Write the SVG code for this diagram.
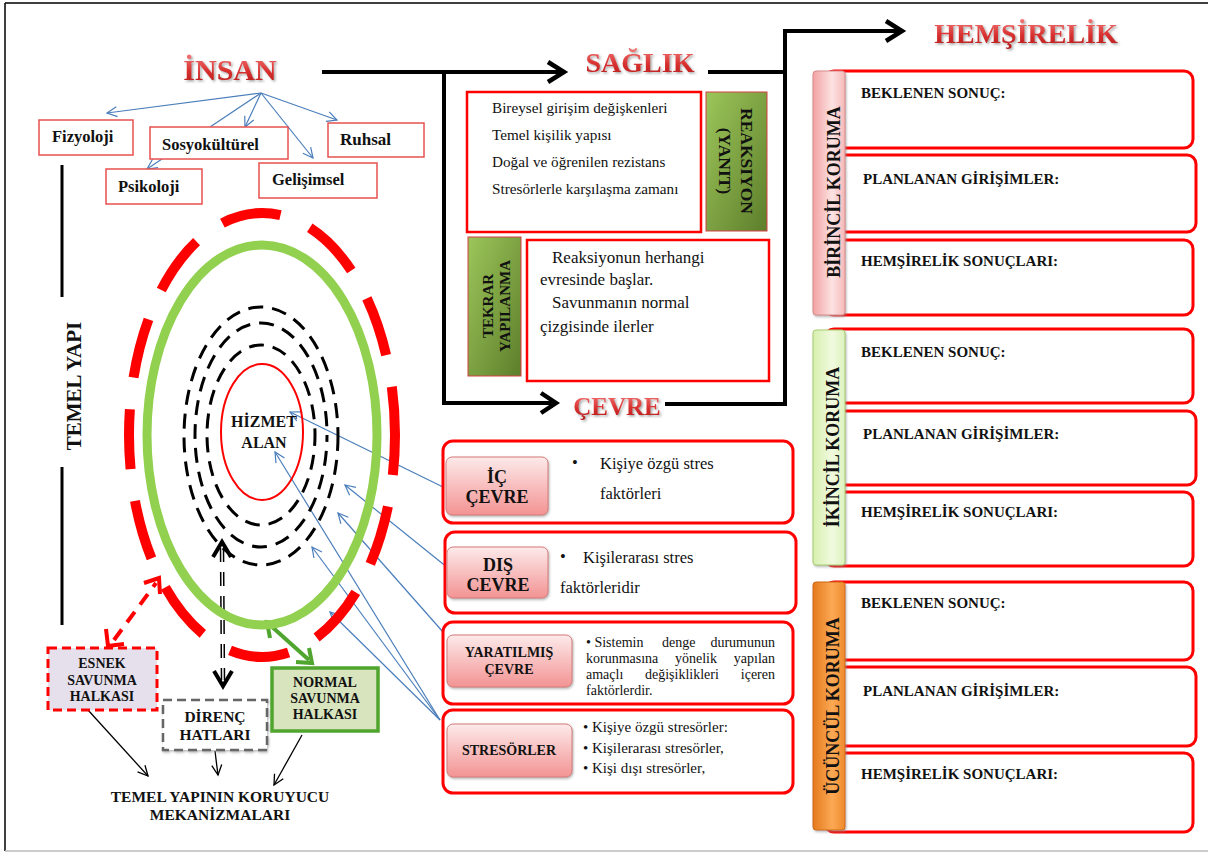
<svg xmlns="http://www.w3.org/2000/svg" width="1208" height="853" viewBox="0 0 1208 853">
<defs>
<style>
text{font-family:"Liberation Serif","Times New Roman",serif;fill:#111}
.b{font-weight:bold}
.m{text-anchor:middle}
.e{text-anchor:end}
.title{font-weight:bold;fill:url(#tg);filter:url(#sh)}
.ib{fill:#fff;stroke:#E8504F;stroke-width:1.5}
.rb{fill:#fff;stroke:#FF0000;stroke-width:2.5}
.rr{fill:#fff;stroke:#FF0000;stroke-width:3}
.thick{fill:none;stroke:#000;stroke-width:4}
.chev{fill:none;stroke:#000;stroke-width:4.5;stroke-linejoin:miter}
.blue{fill:none;stroke:#4A7EBB;stroke-width:1.2;marker-end:url(#ba)}
.thin{fill:none;stroke:#000;stroke-width:1.3;marker-end:url(#ka)}
.btn{fill:url(#pg);stroke:#D57A7A;stroke-width:1;filter:url(#sh2)}
.grn{fill:url(#gg);stroke:#D04040;stroke-width:1}
.lab{font-weight:bold;font-size:15px}
.j{font-size:14px}
</style>
<linearGradient id="tg" x1="0" y1="0" x2="0" y2="1"><stop offset="0" stop-color="#F47C7C"/><stop offset="0.55" stop-color="#D9302F"/><stop offset="1" stop-color="#B31C1C"/></linearGradient>
<linearGradient id="pg" x1="0" y1="0" x2="0" y2="1"><stop offset="0" stop-color="#FDEAEA"/><stop offset="1" stop-color="#F39393"/></linearGradient>
<linearGradient id="gg" x1="0" y1="0" x2="1" y2="1"><stop offset="0" stop-color="#9CC65A"/><stop offset="1" stop-color="#5E7E2B"/></linearGradient>
<linearGradient id="tp" x1="0" y1="0" x2="1" y2="0"><stop offset="0" stop-color="#F3A2A2"/><stop offset="0.6" stop-color="#FCE3E3"/><stop offset="1" stop-color="#F6B8B8"/></linearGradient>
<linearGradient id="tgr" x1="0" y1="0" x2="1" y2="0"><stop offset="0" stop-color="#D6EFAE"/><stop offset="0.6" stop-color="#F1FADF"/><stop offset="1" stop-color="#DDF2BC"/></linearGradient>
<linearGradient id="to" x1="0" y1="0" x2="1" y2="0"><stop offset="0" stop-color="#E5791C"/><stop offset="0.6" stop-color="#FBA955"/><stop offset="1" stop-color="#F08A2C"/></linearGradient>
<filter id="sh" x="-10%" y="-20%" width="130%" height="150%"><feDropShadow dx="1.5" dy="1.5" stdDeviation="1" flood-color="#666" flood-opacity="0.6"/></filter>
<filter id="sh2" x="-10%" y="-10%" width="130%" height="130%"><feDropShadow dx="1" dy="1.5" stdDeviation="1.2" flood-color="#888" flood-opacity="0.6"/></filter>
<marker id="ba" markerWidth="12" markerHeight="12" refX="10" refY="5" orient="auto" markerUnits="userSpaceOnUse" overflow="visible"><path d="M0,0 L10,5 L0,10" fill="none" stroke="#4A7EBB" stroke-width="1.2"/></marker>
<marker id="ka" markerWidth="12" markerHeight="12" refX="10" refY="5" orient="auto" markerUnits="userSpaceOnUse" overflow="visible"><path d="M0,0 L10,5 L0,10" fill="none" stroke="#000" stroke-width="1.3"/></marker>
</defs>

<rect width="1208" height="853" fill="#fff"/>
<g id="frame">
<line x1="5" y1="3" x2="1208" y2="3" stroke="#000" stroke-width="1.5"/>
<line x1="5" y1="3" x2="5" y2="851" stroke="#000" stroke-width="1.5"/>
<line x1="5" y1="851" x2="1208" y2="851" stroke="#bbb" stroke-width="1.5"/>
</g>

<g id="titles">
<text class="title m" x="230" y="80" font-size="30">İNSAN</text>
<text class="title m" x="640" y="72" font-size="28">SAĞLIK</text>
<text class="title m" x="617" y="415" font-size="25">ÇEVRE</text>
<text class="title m" x="1026" y="43" font-size="28">HEMŞİRELİK</text>
</g>

<g id="connectors">
<polyline class="thick" points="322,72 560,72"/>
<polyline class="chev" points="548,62 564,72 548,82"/>
<polyline class="thick" points="444,72 444,403 552,403"/>
<polyline class="chev" points="541,393 556,403 541,413"/>
<polyline class="thick" points="708,72 785,72"/>
<polyline class="thick" points="665,404 785,404 785,31 898,31"/>
<polyline class="chev" points="886,21 902,31 886,41"/>
<line class="blue" x1="261" y1="93" x2="107" y2="113"/>
<line class="blue" x1="261" y1="93" x2="245" y2="127"/>
<line class="blue" x1="261" y1="93" x2="337" y2="120"/>
<line class="blue" x1="261" y1="93" x2="313" y2="158"/>
<line x1="261" y1="93" x2="210" y2="127" stroke="#4A7EBB" stroke-width="1.2"/>
<line class="blue" x1="162" y1="159" x2="147" y2="169"/>
<line class="blue" x1="443" y1="487" x2="290" y2="412"/>
<line class="blue" x1="453" y1="572" x2="345" y2="485"/>
<line class="blue" x1="443" y1="632" x2="338" y2="513"/>
<line class="blue" x1="440" y1="720" x2="312" y2="547"/>
<line class="blue" x1="440" y1="720" x2="275" y2="452"/>
<line class="blue" x1="440" y1="720" x2="330" y2="612"/>
<line x1="114" y1="640" x2="156" y2="583" stroke="#FF0000" stroke-width="4" stroke-dasharray="13 9"/>
<polyline points="144,583 159,578 160,594" fill="none" stroke="#FF0000" stroke-width="4"/>
<polyline points="106,629 108,646 124,644" fill="none" stroke="#FF0000" stroke-width="4"/>
<line x1="270" y1="625" x2="309" y2="660" stroke="#4FA52E" stroke-width="4"/>
<polyline points="270,638 267,622 283,624" fill="none" stroke="#4FA52E" stroke-width="4"/>
<polyline points="296,662 312,663 309,648" fill="none" stroke="#4FA52E" stroke-width="4"/>
<line x1="222" y1="548" x2="223" y2="680" stroke="#000" stroke-width="4.5" stroke-dasharray="14 10"/>
<line x1="222" y1="548" x2="223" y2="680" stroke="#fff" stroke-width="1.5" stroke-dasharray="14 10"/>
<polyline points="213,557 222,542 231,557" fill="none" stroke="#000" stroke-width="4"/>
<polyline points="214,671 223,686 232,671" fill="none" stroke="#000" stroke-width="4"/>
<line class="thin" x1="88" y1="710" x2="148" y2="776"/>
<line class="thin" x1="215" y1="751" x2="218" y2="775"/>
<line class="thin" x1="302" y1="735" x2="274" y2="785"/>
</g>

<g id="insan-boxes">
<g id="fizyoloji"><rect class="ib" x="39" y="120" width="94" height="35"/><text class="b" x="52" y="142" font-size="16.5">Fizyoloji</text></g>
<g id="sosyokulturel"><rect class="ib" x="150" y="127" width="138" height="32"/><text class="b" x="162" y="150" font-size="16.5">Sosyokültürel</text></g>
<g id="ruhsal"><rect class="ib" x="328" y="123" width="96" height="34"/><text class="b" x="340" y="145" font-size="17">Ruhsal</text></g>
<g id="psikoloji"><rect class="ib" x="106" y="169" width="96" height="35"/><text class="b" x="118" y="192" font-size="16.5">Psikoloji</text></g>
<g id="gelisimsel"><rect class="ib" x="259" y="163" width="118" height="35"/><text class="b" x="272" y="185" font-size="16.5">Gelişimsel</text></g>
</g>

<g id="temel-yapi">
<line x1="62" y1="165" x2="62" y2="297" stroke="#000" stroke-width="3"/>
<line x1="62" y1="467" x2="62" y2="625" stroke="#000" stroke-width="3"/>
<text class="b m" transform="translate(81,386) rotate(-90)" font-size="21">TEMEL YAPI</text>
</g>

<g id="rings">
<ellipse cx="262" cy="435" rx="133" ry="222" fill="none" stroke="#FF0000" stroke-width="10" stroke-dasharray="60 32" stroke-dashoffset="20"/>
<ellipse cx="262" cy="435" rx="115" ry="190" fill="none" stroke="#92D050" stroke-width="9"/>
<ellipse cx="261" cy="436" rx="77" ry="129" fill="none" stroke="#000" stroke-width="3" stroke-dasharray="15 9"/>
<ellipse cx="261" cy="435" rx="66" ry="112" fill="none" stroke="#000" stroke-width="3" stroke-dasharray="15 9" stroke-dashoffset="8"/>
<ellipse cx="261" cy="435" rx="54" ry="90" fill="none" stroke="#000" stroke-width="3" stroke-dasharray="15 9" stroke-dashoffset="4"/>
<ellipse cx="262" cy="432" rx="41" ry="68" fill="none" stroke="#FF0000" stroke-width="2"/>
<text class="b m" x="264" y="427" font-size="16">HİZMET</text>
<text class="b m" x="264" y="448" font-size="16">ALAN</text>
</g>

<g id="esnek">
<rect x="48" y="648" width="109" height="62" fill="#E5E0EC" stroke="#FF0000" stroke-width="3" stroke-dasharray="9 5"/>
<text class="b m" x="102" y="668" font-size="14">ESNEK</text>
<text class="b m" x="102" y="685" font-size="14">SAVUNMA</text>
<text class="b m" x="102" y="701" font-size="14">HALKASI</text>
</g>
<g id="direnc">
<rect x="163" y="700" width="104" height="50" fill="#fff" stroke="#666" stroke-width="2.5" stroke-dasharray="9 5" filter="url(#sh2)"/>
<text class="b m" x="215" y="722" font-size="15.5">DİRENÇ</text>
<text class="b m" x="215" y="740" font-size="15.5">HATLARI</text>
</g>
<g id="normal">
<rect x="272" y="668" width="106" height="63" fill="#D7E4BD" stroke="#4FA52E" stroke-width="3.5"/>
<text class="b m" x="325" y="687" font-size="14">NORMAL</text>
<text class="b m" x="325" y="703" font-size="14">SAVUNMA</text>
<text class="b m" x="325" y="719" font-size="14">HALKASI</text>
</g>
<g id="koruyucu">
<text class="b m" x="220" y="802" font-size="15.5">TEMEL YAPININ KORUYUCU</text>
<text class="b m" x="220" y="820" font-size="15.5">MEKANİZMALARI</text>
</g>

<g id="saglik-box1">
<rect class="rb" x="467" y="92" width="234" height="140"/>
<text x="492" y="113" font-size="15.2">Bireysel girişim değişkenleri</text>
<text x="492" y="140" font-size="15.2">Temel kişilik yapısı</text>
<text x="492" y="167" font-size="15.2">Doğal ve öğrenilen rezistans</text>
<text x="492" y="194" font-size="15.2">Stresörlerle karşılaşma zamanı</text>
</g>
<g id="reaksiyon">
<rect class="grn" x="706" y="92" width="61" height="139"/>
<text class="b m" transform="translate(741,161) rotate(90)" font-size="17.5">REAKSIYON</text>
<text class="b m" transform="translate(719,161) rotate(90)" font-size="17.5">(YANIT)</text>
</g>
<g id="tekrar">
<rect class="grn" x="468" y="237" width="53" height="139"/>
<text class="b m" transform="translate(493,306) rotate(-90)" font-size="15">TEKRAR</text>
<text class="b m" transform="translate(510,306) rotate(-90)" font-size="15">YAPILANMA</text>
</g>
<g id="saglik-box2">
<rect class="rb" x="527" y="240" width="242" height="141"/>
<text x="552" y="263" font-size="17">Reaksiyonun herhangi</text>
<text x="540" y="285" font-size="17">evresinde başlar.</text>
<text x="552" y="308" font-size="17">Savunmanın normal</text>
<text x="540" y="332" font-size="17">çizgisinde ilerler</text>
</g>

<g id="ic-cevre">
<rect class="rr" x="443" y="441" width="350" height="82" rx="10"/>
<rect class="btn" x="446" y="457" width="102" height="58" rx="6"/>
<text class="b m" x="497" y="483" font-size="18">İÇ</text>
<text class="b m" x="497" y="503" font-size="18">ÇEVRE</text>
<text x="572" y="468" font-size="16.5">•</text>
<text x="600" y="469" font-size="16.5">Kişiye özgü stres</text>
<text x="600" y="499" font-size="16.5">faktörleri</text>
</g>
<g id="dis-cevre">
<rect class="rr" x="445" y="532" width="351" height="81" rx="10"/>
<rect class="btn" x="447" y="547" width="101" height="51" rx="6"/>
<text class="b m" x="498" y="571" font-size="18">DIŞ</text>
<text class="b m" x="498" y="591" font-size="18">CEVRE</text>
<text x="560" y="562" font-size="16.5">•</text>
<text x="583" y="563" font-size="16.5">Kişilerarası stres</text>
<text x="560" y="593" font-size="16.5">faktörleridir</text>
</g>
<g id="yaratilmis">
<rect class="rr" x="443" y="622" width="350" height="82" rx="10"/>
<rect class="btn" x="447" y="635" width="125" height="52" rx="6"/>
<text class="b m" x="509" y="657" font-size="14">YARATILMIŞ</text>
<text class="b m" x="509" y="674" font-size="14">ÇEVRE</text>
<text class="j" x="586" y="647">• Sistemin</text>
<text class="j" x="662" y="647">denge</text>
<text class="j e" x="775" y="647">durumunun</text>
<text class="j" x="586" y="663">korunmasına</text>
<text class="j" x="675" y="663">yönelik</text>
<text class="j e" x="775" y="663">yapılan</text>
<text class="j" x="586" y="679">amaçlı</text>
<text class="j" x="645" y="679">değişiklikleri</text>
<text class="j e" x="775" y="679">içeren</text>
<text class="j" x="586" y="695">faktörlerdir.</text>
</g>
<g id="stresorler">
<rect class="rr" x="443" y="710" width="350" height="83" rx="10"/>
<rect class="btn" x="447" y="724" width="125" height="53" rx="6"/>
<text class="b m" x="509" y="755" font-size="14">STRESÖRLER</text>
<text x="583" y="732" font-size="15">• Kişiye özgü stresörler:</text>
<text x="583" y="753" font-size="15">• Kişilerarası stresörler,</text>
<text x="583" y="773" font-size="15">• Kişi dışı stresörler,</text>
</g>

<g id="birincil">
<rect class="rr" x="825" y="71" width="368" height="77" rx="9"/>
<rect class="rr" x="825" y="155" width="371" height="77" rx="9"/>
<rect class="rr" x="825" y="240" width="368" height="75" rx="9"/>
<rect x="813" y="71" width="32" height="244" rx="3" fill="url(#tp)" stroke="#D98A8A" stroke-width="1" filter="url(#sh2)"/>
<text class="b m" transform="translate(840,192) rotate(-90)" font-size="18">BİRİNCİL KORUMA</text>
<text class="lab" x="861" y="98">BEKLENEN SONUÇ:</text>
<text class="lab" x="863" y="184">PLANLANAN GİRİŞİMLER:</text>
<text class="lab" x="861" y="266">HEMŞİRELİK SONUÇLARI:</text>
</g>
<g id="ikincil">
<rect class="rr" x="825" y="329" width="368" height="74" rx="9"/>
<rect class="rr" x="825" y="411" width="371" height="74" rx="9"/>
<rect class="rr" x="825" y="492" width="368" height="74" rx="9"/>
<rect x="813" y="330" width="32" height="235" rx="3" fill="url(#tgr)" stroke="#A8CC70" stroke-width="1" filter="url(#sh2)"/>
<text class="b m" transform="translate(839,447) rotate(-90)" font-size="18">İKİNCİL KORUMA</text>
<text class="lab" x="861" y="357">BEKLENEN SONUÇ:</text>
<text class="lab" x="863" y="439">PLANLANAN GİRİŞİMLER:</text>
<text class="lab" x="861" y="517">HEMŞİRELİK SONUÇLARI:</text>
</g>
<g id="ucuncul">
<rect class="rr" x="825" y="582" width="368" height="78" rx="9"/>
<rect class="rr" x="825" y="667" width="371" height="79" rx="9"/>
<rect class="rr" x="825" y="753" width="368" height="79" rx="9"/>
<rect x="813" y="582" width="32" height="248" rx="3" fill="url(#to)" stroke="#D06A10" stroke-width="1" filter="url(#sh2)"/>
<text class="b m" transform="translate(839,706) rotate(-90)" font-size="18">ÜCÜNCÜL KORUMA</text>
<text class="lab" x="861" y="608">BEKLENEN SONUÇ:</text>
<text class="lab" x="863" y="696">PLANLANAN GİRİŞİMLER:</text>
<text class="lab" x="861" y="779">HEMŞİRELİK SONUÇLARI:</text>
</g>
</svg>
